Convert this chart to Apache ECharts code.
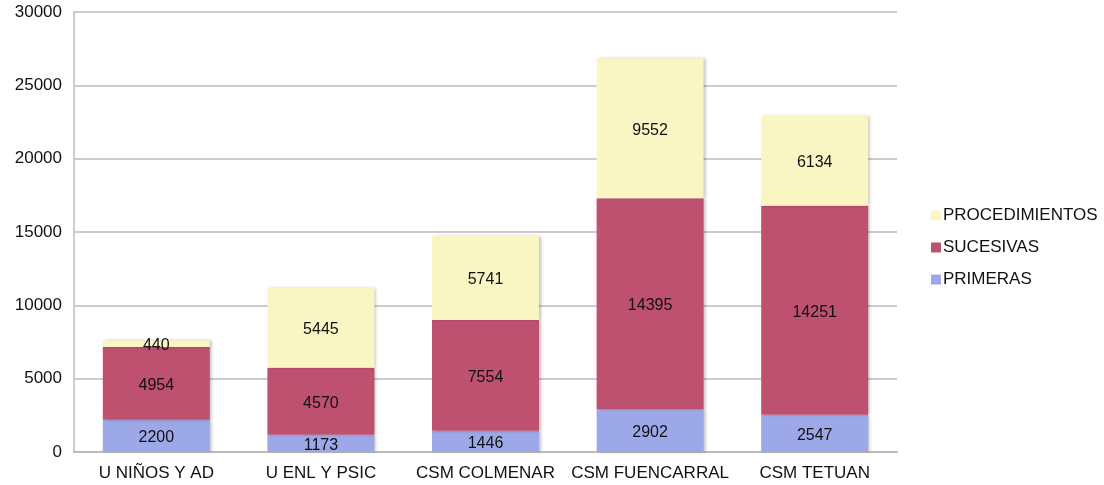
<!DOCTYPE html>
<html>
<head>
<meta charset="utf-8">
<script src="https://cdn.jsdelivr.net/npm/echarts@6/dist/echarts.min.js"></script>
<style>
  html, body { margin: 0; padding: 0; background: #fff; }
  #chart { width: 1104px; height: 485px; }
</style>
</head>
<body>
<div id="chart"></div>
<script>
var categories = ['U NIÑOS Y AD', 'U ENL Y PSIC', 'CSM COLMENAR', 'CSM FUENCARRAL', 'CSM TETUAN'];
var primeras = [2200, 1173, 1446, 2902, 2547];
var sucesivas = [4954, 4570, 7554, 14395, 14251];
var procedimientos = [440, 5445, 5741, 9552, 6134];

var font = 'Liberation Sans, Arial, sans-serif';

// estilo de las barras (sombra suave a la derecha)
function barStyle(color) {
    return {
        color: color,
        shadowColor: 'rgba(0,0,0,0.25)',
        shadowBlur: 3,
        shadowOffsetX: 2,
        shadowOffsetY: 0
    };
}

function makeSeries(name, data, color) {
    return {
        name: name,
        type: 'bar',
        stack: 'total',
        barWidth: '65%',
        data: data,
        itemStyle: barStyle(color),
        label: {
            show: true,
            position: 'inside',
            offset: [0, 2],
            color: '#111',
            fontFamily: font,
            fontSize: 16
        }
    };
}

var chart = echarts.init(document.getElementById('chart'));
chart.setOption({
    animation: false,
    grid: { left: 74, right: 207, top: 12, bottom: 33 },
    legend: {
        orient: 'vertical',
        left: 926,
        top: 202,
        itemWidth: 10,
        itemHeight: 10,
        itemGap: 15,
        icon: 'rect',
        data: ['PROCEDIMIENTOS', 'SUCESIVAS', 'PRIMERAS'],
        textStyle: { fontFamily: font, fontSize: 17, color: '#111', padding: [0, 0, 0, -3] }
    },
    xAxis: {
        type: 'category',
        data: categories,
        axisLine: { lineStyle: { color: '#bbb', width: 2 } },
        axisTick: { show: false },
        axisLabel: { fontFamily: font, fontSize: 17, color: '#111', margin: 13, interval: 0 }
    },
    yAxis: {
        type: 'value',
        min: 0,
        max: 30000,
        interval: 5000,
        axisLine: { show: true, lineStyle: { color: '#ccc', width: 2 } },
        axisTick: { show: false },
        splitLine: { lineStyle: { color: '#bbb', width: 1.5 } },
        axisLabel: {
            fontFamily: font, fontSize: 17, color: '#111', margin: 12,
            formatter: function (v) { return String(v); }
        }
    },
    series: [
        makeSeries('PRIMERAS', primeras, '#9da8e8'),
        makeSeries('SUCESIVAS', sucesivas, '#be5070'),
        makeSeries('PROCEDIMIENTOS', procedimientos, '#f9f6c3')
    ]
});
</script>
</body>
</html>
